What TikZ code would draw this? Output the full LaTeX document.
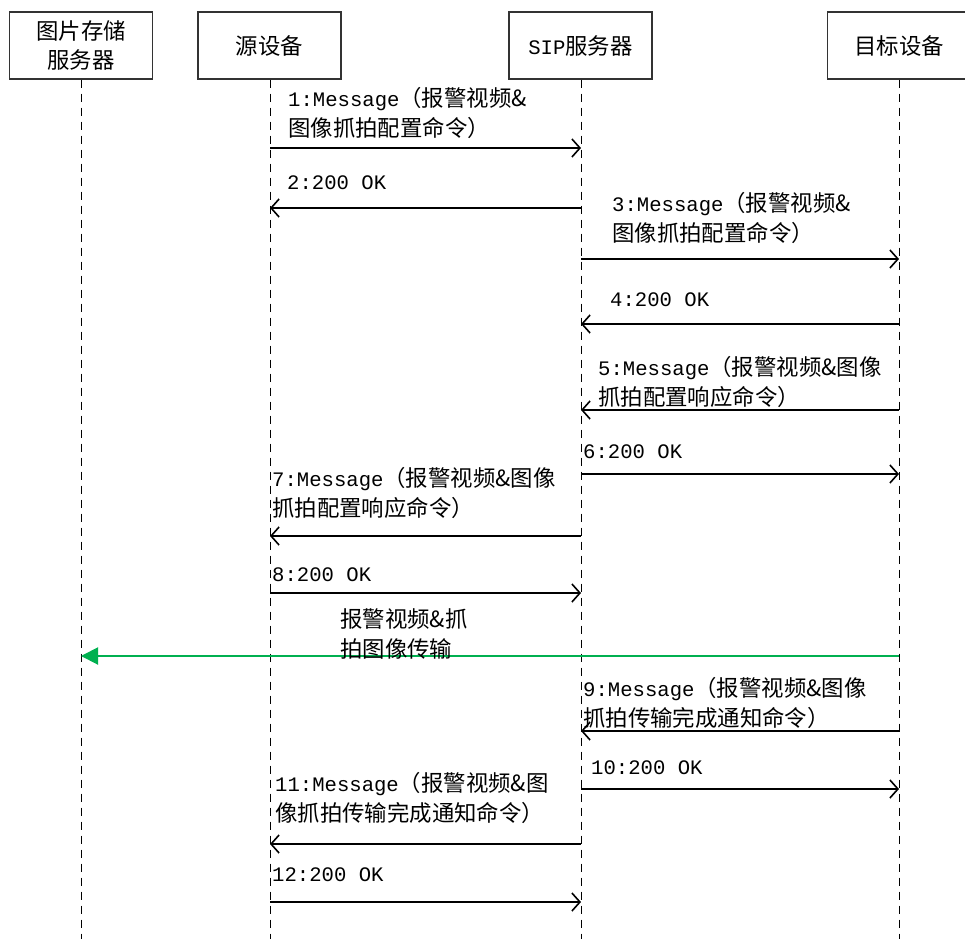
\documentclass[tikz,border=0pt]{standalone}
\usepackage{fontspec}
\setmainfont{Noto Sans CJK SC}
\newfontfamily\lat{Liberation Mono}[Scale=0.92]
\usetikzlibrary{arrows.meta}
\definecolor{grn}{RGB}{0,176,80}
\tikzset{
  x=1pt, y=-1pt,
  actor/.style={draw=black!80, line width=1.2pt, minimum width=143pt, minimum height=67pt, inner sep=0pt, align=center, font=\fontsize{22.4}{29}\selectfont},
  life/.style={line width=1pt, dash pattern=on 8pt off 6pt},
  msg/.style={line width=1.6pt, -{Straight Barb[length=8pt,width=18pt,line width=1.6pt]}},
  dat/.style={grn, line width=2pt, -{Triangle[length=17pt,width=17pt]}},
  lbl/.style={anchor=west, inner sep=0pt, align=left, font=\fontsize{22.4}{30}\selectfont}
}
\begin{document}
\begin{tikzpicture}
\useasboundingbox (0,0) rectangle (965,939);
% actors
\node[actor] (img) at (81,45.5) {图片存储\\服务器};
\node[actor] (src) at (269.5,45.5) {源设备};
\node[actor] (sip) at (580.5,45.5) {{\lat SIP}服务器};
\node[actor] (dst) at (899,45.5) {目标设备};
% lifelines
\coordinate (bot) at (0,939);
\draw[life] (img.south) -- (img.south |- bot);
\draw[life] ([xshift=0.5pt]src.south) -- ([xshift=0.5pt]src.south |- bot);
\draw[life] ([xshift=0.5pt]sip.south) -- ([xshift=0.5pt]sip.south |- bot);
\draw[life] (dst.south) -- (dst.south |- bot);
% message rows
\coordinate (r1) at (0,148);
\coordinate (r2) at (0,208);
\coordinate (r3) at (0,259);
\coordinate (r4) at (0,324);
\coordinate (r5) at (0,410);
\coordinate (r6) at (0,474);
\coordinate (r7) at (0,536);
\coordinate (r8) at (0,593);
\coordinate (rg) at (0,656);
\coordinate (r9) at (0,731);
\coordinate (r10) at (0,789);
\coordinate (r11) at (0,844);
\coordinate (r12) at (0,902);
% arrows
\draw[msg] ([xshift=0.5pt]src.south |- r1) -- ([xshift=0.5pt]sip.south |- r1);
\draw[msg] ([xshift=0.5pt]sip.south |- r2) -- ([xshift=0.5pt]src.south |- r2);
\draw[msg] ([xshift=0.5pt]sip.south |- r3) -- (dst.south |- r3);
\draw[msg] (dst.south |- r4) -- ([xshift=0.5pt]sip.south |- r4);
\draw[msg] (dst.south |- r5) -- ([xshift=0.5pt]sip.south |- r5);
\draw[msg] ([xshift=0.5pt]sip.south |- r6) -- (dst.south |- r6);
\draw[msg] ([xshift=0.5pt]sip.south |- r7) -- ([xshift=0.5pt]src.south |- r7);
\draw[msg] ([xshift=0.5pt]src.south |- r8) -- ([xshift=0.5pt]sip.south |- r8);
\draw[dat] (dst.south |- rg) -- (img.south |- rg);
\draw[msg] (dst.south |- r9) -- ([xshift=0.5pt]sip.south |- r9);
\draw[msg] ([xshift=0.5pt]sip.south |- r10) -- (dst.south |- r10);
\draw[msg] ([xshift=0.5pt]sip.south |- r11) -- ([xshift=0.5pt]src.south |- r11);
\draw[msg] ([xshift=0.5pt]src.south |- r12) -- ([xshift=0.5pt]sip.south |- r12);
% labels
\node[lbl] (l1) at (288,113) {{\lat 1:Message}（报警视频\&\\图像抓拍配置命令）};
\node[lbl] (l2) at (287,183) {\lat 2:200 OK};
\node[lbl] (l3) at (612,217.5) {{\lat 3:Message}（报警视频\&\\图像抓拍配置命令）};
\node[lbl] (l4) at (610,300) {\lat 4:200 OK};
\node[lbl] (l5) at (598,381.5) {{\lat 5:Message}（报警视频\&图像\\抓拍配置响应命令）};
\node[lbl] (l6) at (583,452) {\lat 6:200 OK};
\node[lbl] (l7) at (272,492.5) {{\lat 7:Message}（报警视频\&图像\\抓拍配置响应命令）};
\node[lbl] (l8) at (272,575) {\lat 8:200 OK};
\node[lbl] (lg) at (340,634) {报警视频\&抓\\拍图像传输};
\node[lbl] (l9) at (583,702.5) {{\lat 9:Message}（报警视频\&图像\\抓拍传输完成通知命令）};
\node[lbl] (l10) at (591,768) {\lat 10:200 OK};
\node[lbl] (l11) at (275,798) {{\lat 11:Message}（报警视频\&图\\像抓拍传输完成通知命令）};
\node[lbl] (l12) at (272,875) {\lat 12:200 OK};
\end{tikzpicture}
\end{document}
